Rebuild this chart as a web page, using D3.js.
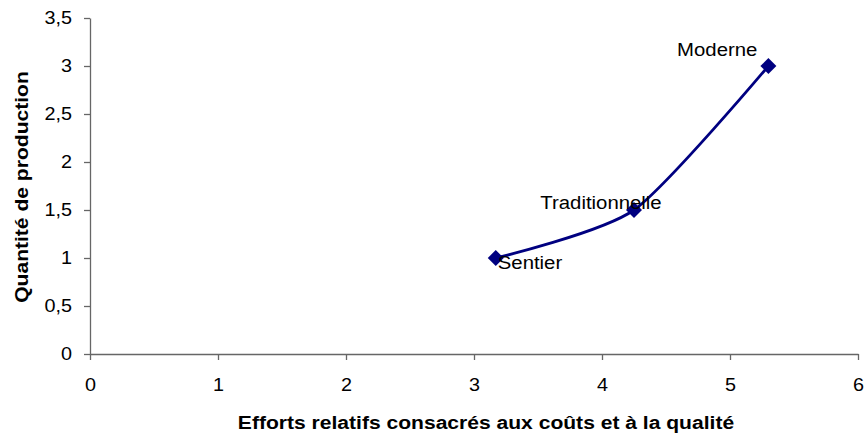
<!DOCTYPE html>
<html>
<head>
<meta charset="utf-8">
<script src="https://cdn.jsdelivr.net/npm/d3@7"></script>
<style>
  body { margin: 0; background: #fff; }
  text { font-family: "Liberation Sans", Arial, sans-serif; }
</style>
</head>
<body>
<svg id="chart" width="867" height="436"></svg>
<script>
// Production options: relative effort on costs/quality vs. production quantity
const names = ["Sentier", "Traditionnelle", "Moderne"];
const effort = [3.17, 4.25, 5.3];
const quantity = [1, 1.5, 3];
const xTicks = [0, 1, 2, 3, 4, 5, 6];
const yTicks = [0, 0.5, 1, 1.5, 2, 2.5, 3, 3.5];

const svg = d3.select("#chart");
const x = d3.scaleLinear().domain([0, 6]).range([90, 858]);
const y = d3.scaleLinear().domain([0, 3.5]).range([354, 18]);
const fmt = d => String(d).replace(".", ",");
const axisColor = "#666";
const FONT = "'Liberation Sans', Arial, sans-serif";

// Widen glyphs horizontally (the chart uses a slightly wide face)
function widen(sel, f) {
  sel.each(function () {
    const w = this.getComputedTextLength();
    d3.select(this).attr("textLength", w * f).attr("lengthAdjust", "spacingAndGlyphs");
  });
}

// Axes
const gx = svg.append("g").attr("transform", `translate(0,${y(0)})`)
  .call(d3.axisBottom(x).tickValues(xTicks).tickFormat(fmt).tickSize(6).tickPadding(18).tickSizeOuter(0));
const gy = svg.append("g").attr("transform", `translate(${x(0)},0)`)
  .call(d3.axisLeft(y).tickValues(yTicks).tickFormat(fmt).tickSize(6).tickPadding(12).tickSizeOuter(0));
[gx, gy].forEach(g => {
  g.select(".domain").attr("stroke", axisColor).attr("stroke-width", 1.3);
  g.selectAll(".tick line").attr("stroke", axisColor).attr("stroke-width", 1.3);
  const t = g.selectAll(".tick text").attr("fill", "#000")
    .style("font-size", "18px").style("font-family", FONT);
  widen(t, 1.1);
});

// Axis titles
const xTitle = svg.append("text")
  .attr("x", 486).attr("y", 429)
  .attr("text-anchor", "middle")
  .style("font-size", "18px").style("font-weight", "bold")
  .text("Efforts relatifs consacrés aux coûts et à la qualité");
widen(xTitle, 1.17);
const yTitle = svg.append("text")
  .attr("transform", "translate(28,187) rotate(-90)")
  .attr("text-anchor", "middle")
  .style("font-size", "18px").style("font-weight", "bold")
  .text("Quantité de production");
widen(yTitle, 1.17);

// Smoothed series line
const pts = effort.map((e, i) => ({ x: e, y: quantity[i], name: names[i] }));
svg.append("path")
  .datum(pts)
  .attr("fill", "none")
  .attr("stroke", "#000080")
  .attr("stroke-width", 2.8)
  .attr("d", d3.line().x(d => x(d.x)).y(d => y(d.y)).curve(d3.curveCardinal.tension(0.3)));

// Diamond markers
svg.selectAll(".marker").data(pts).enter().append("path")
  .attr("class", "marker")
  .attr("transform", d => `translate(${x(d.x)},${y(d.y)})`)
  .attr("d", "M0,-8L8,0L0,8L-8,0Z")
  .attr("fill", "#000080");

// Point labels
const labelOffsets = { "Sentier": [2, 11, "start"], "Traditionnelle": [-33, -1, "middle"], "Moderne": [-11, -10, "end"] };
const labels = svg.selectAll(".lbl").data(pts).enter().append("text")
  .attr("class", "lbl")
  .attr("x", d => x(d.x) + labelOffsets[d.name][0])
  .attr("y", d => y(d.y) + labelOffsets[d.name][1])
  .attr("text-anchor", d => labelOffsets[d.name][2])
  .style("font-size", "18px")
  .text(d => d.name);
widen(labels, 1.13);
</script>
</body>
</html>
